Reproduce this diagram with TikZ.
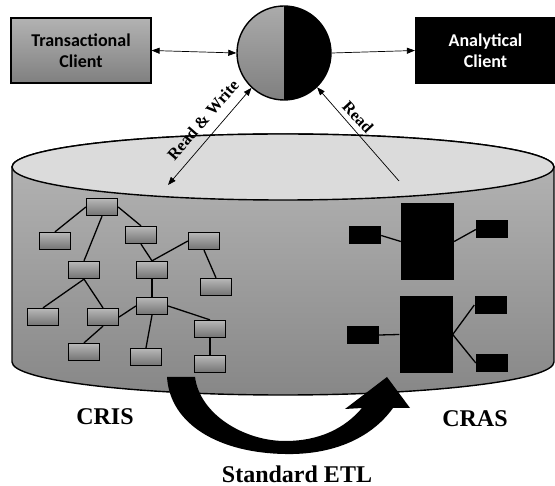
\documentclass[tikz,border=0pt]{standalone}
\usepackage{fontspec}
\setmainfont{Liberation Serif}
\newfontfamily\clientfont{Carlito}
\usetikzlibrary{arrows.meta}
\tikzset{
  client/.style={draw=black, line width=1.2pt, minimum width=140pt, minimum height=65pt,
    align=center, font=\clientfont\bfseries\fontsize{18}{21}\selectfont, inner sep=0pt},
  entity/.style={draw=black, line width=1.3pt, minimum width=31pt, minimum height=17pt,
    inner sep=0pt, top color=black!28, bottom color=black!55},
  fact/.style={fill=black, minimum width=53pt, minimum height=77pt, inner sep=0pt},
  dim/.style={fill=black, minimum width=32pt, minimum height=18pt, inner sep=0pt},
  link/.style={line width=1.3pt},
  flow/.style={line width=0.7pt, -{Triangle[length=8pt,width=6pt]}},
  biflow/.style={line width=0.7pt, {Triangle[length=8pt,width=6pt]}-{Triangle[length=8pt,width=6pt]}},
  tag/.style={font=\bfseries\fontsize{16.5}{18}\selectfont, inner sep=0pt},
  title/.style={font=\bfseries\fontsize{24}{26}\selectfont, inner sep=0pt}
}
\begin{document}
\begin{tikzpicture}[x=1pt,y=-1pt]
\useasboundingbox (0,0) rectangle (555,486);

% database cylinder
\shade[top color=black!28, bottom color=black!47, draw=black, line width=1.4pt]
  (12,167) -- (12,362) arc[start angle=180, end angle=360, x radius=271pt, y radius=33pt]
  -- (554,167) arc[start angle=0, end angle=180, x radius=271pt, y radius=33pt] -- cycle;
\draw[fill=black!14, line width=1.4pt] (283,167) ellipse[x radius=271pt, y radius=33pt];

% clients and the hub
\node[client, top color=black!30, bottom color=black!50] (tc) at (81,50.5) {Transactional\\Client};
\node[client, fill=black, text=white] (ac) at (485.5,50.5) {Analytical\\Client};
\node[circle, draw=black, line width=1.4pt, minimum size=94pt, inner sep=0pt,
  path picture={
    \shade[top color=black!33, bottom color=black!50]
      (path picture bounding box.north west) rectangle (path picture bounding box.south);
    \fill[black] (path picture bounding box.north) rectangle (path picture bounding box.south east);
  }] (hub) at (284,53) {};

\draw[biflow] (tc.east) -- (hub.west);
\draw[flow] (hub.east) -- (ac.west);

\coordinate (rwend) at (168,185);
\coordinate (rdend) at (399,181);
\draw[biflow] (rwend) -- (hub.227);
\draw[flow] (rdend) -- (hub.314);
\node[tag, rotate=49] (rwlabel) at (203,120) {Read \& Write};
\node[tag, rotate=-47] (rdlabel) at (358,117) {Read};

% CRIS: normalised entity graph
\node[entity] (e1) at (102,207) {};
\node[entity] (e2) at (55,241) {};
\node[entity] (e3) at (141,235) {};
\node[entity] (e4) at (204,241) {};
\node[entity] (e5) at (84,270) {};
\node[entity] (e6) at (152,270) {};
\node[entity] (e7) at (216,287) {};
\node[entity] (e8) at (43,317) {};
\node[entity] (e9) at (103,317) {};
\node[entity] (e10) at (152,306) {};
\node[entity] (e11) at (210,329) {};
\node[entity] (e12) at (84,352) {};
\node[entity] (e13) at (146,357) {};
\node[entity] (e14) at (210,364) {};
\draw[link] (e1.west) -- (e2.north);
\draw[link] (e1.south) -- (e5.north);
\draw[link] (e1.east) -- (e3.north);
\draw[link] (e3.south) -- (e6.north);
\draw[link] (e4.west) -- (e6.north);
\draw[link] (e4.south) -- (e7.north);
\draw[link] (e6.south) -- (e10.north);
\draw[link] (e5.south) -- (e8.north);
\draw[link] (e5.south) -- (e9.north);
\draw[link] (e9.east) -- (e10.west);
\draw[link] (e10.south) -- (e13.north);
\draw[link] (e10.east) -- (e11.north);
\draw[link] (e9.south) -- (e12.north);
\draw[link] (e11.south) -- (e14.north);

% CRAS: star schemas
\node[fact] (fa) at (427.5,241.5) {};
\node[fact] (fb) at (426,334.5) {};
\node[dim] (d1) at (365,235.5) {};
\node[dim] (d2) at (492,229.5) {};
\node[dim] (d3) at (363,335) {};
\node[dim] (d4) at (490.5,305) {};
\node[dim] (d5) at (492,363) {};
\draw[link] (d1.east) -- (fa.west);
\draw[link] (fa.east) -- (d2.west);
\draw[link] (d3.east) -- (fb.west);
\draw[link] (fb.east) -- (d4.west);
\draw[link] (fb.east) -- (d5.west);

% ETL block arrow
\fill[black] (167,377) -- (195,377)
  .. controls (200,415) and (245,441) .. (285,441)
  .. controls (320,441) and (345,428) .. (362,408)
  -- (345,409) -- (387,377) -- (410,408) -- (393,408)
  .. controls (370,440) and (330,455) .. (285,454)
  .. controls (220,453) and (170,425) .. cycle;

\node[title] (cris) at (105,417) {CRIS};
\node[title] (cras) at (475,419) {CRAS};
\node[title] (etl) at (297,474) {Standard ETL};
\end{tikzpicture}
\end{document}
